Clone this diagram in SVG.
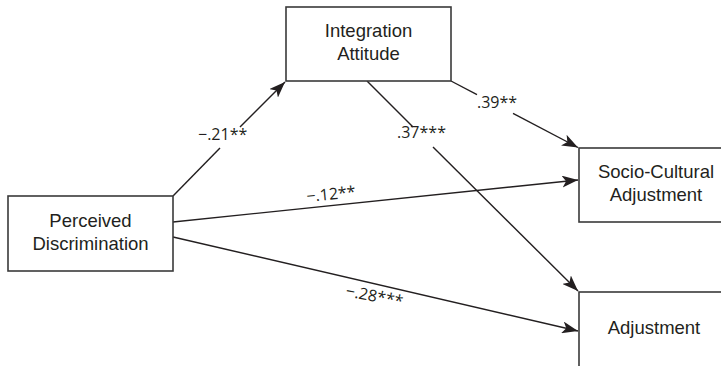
<svg xmlns="http://www.w3.org/2000/svg" width="721" height="366" viewBox="0 0 721 366">
<style>
.box{fill:#fff;stroke:#3a3a3a;stroke-width:1.6}
.t{font-family:"Liberation Sans",Arial,sans-serif;font-size:18.5px;fill:#231f20;text-anchor:middle}
.l{font-family:"Open Sans","Liberation Sans",sans-serif;font-size:16px;fill:#231f20}
.c{stroke:#231f20;stroke-width:1.4;fill:none}
</style>
<defs>
<marker id="ah" markerUnits="userSpaceOnUse" markerWidth="18" markerHeight="12" refX="16" refY="6" orient="auto">
<path d="M0,0 L16,6 L0,12 L4,6 z" fill="#231f20"/>
</marker>
</defs>
<rect width="721" height="366" fill="#fff"/>
<g id="connectors">
<line class="c" x1="173" y1="196" x2="220" y2="148"/>
<line class="c" x1="240" y1="127" x2="285" y2="82" marker-end="url(#ah)"/>
<line class="c" x1="451" y1="81" x2="477" y2="94.6"/>
<line class="c" x1="513" y1="113.4" x2="578" y2="147.5" marker-end="url(#ah)"/>
<line class="c" x1="367" y1="81" x2="413" y2="127"/>
<line class="c" x1="433" y1="147" x2="578" y2="291" marker-end="url(#ah)"/>
<line class="c" x1="173" y1="222" x2="578" y2="180" marker-end="url(#ah)"/>
<line class="c" x1="173" y1="237" x2="578" y2="331" marker-end="url(#ah)"/>
<text class="l" x="198" y="140">−.21**</text>
<text class="l" x="477" y="108">.39**</text>
<text class="l" x="397" y="138">.37***</text>
<text class="l" x="307" y="202" transform="rotate(-5.5 307 202)">−.12**</text>
<text class="l" x="345" y="296" transform="rotate(11 345 296)">−.28***</text>
</g>
<g id="integration">
<rect class="box" x="286" y="7" width="165" height="74"/>
<text class="t" x="368.5" y="37">Integration</text>
<text class="t" x="368.5" y="59.5">Attitude</text>
</g>
<g id="perceived">
<rect class="box" x="8" y="196" width="165" height="75"/>
<text class="t" x="90.5" y="227">Perceived</text>
<text class="t" x="90.5" y="249.5">Discrimination</text>
</g>
<g id="sociocultural">
<rect class="box" x="579" y="148" width="150" height="74"/>
<text class="t" x="656" y="178">Socio-Cultural</text>
<text class="t" x="656" y="200.5">Adjustment</text>
</g>
<g id="adjustment">
<rect class="box" x="579" y="292" width="150" height="100"/>
<text class="t" x="654" y="334">Adjustment</text>
</g>
</svg>
